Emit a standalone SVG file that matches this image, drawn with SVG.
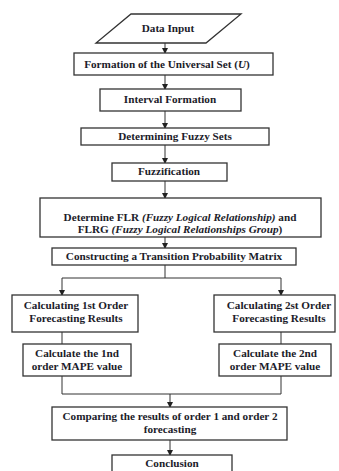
<svg xmlns="http://www.w3.org/2000/svg" width="339" height="471" viewBox="0 0 339 471">
<style>
.b{fill:#fff;stroke:#333;stroke-width:1.3}
.t{font-family:"Liberation Serif","Times New Roman",serif;font-size:11.2px;font-weight:bold;fill:#1c1c2a;text-anchor:middle}
.i{font-style:italic}
.c{fill:none;stroke:#333;stroke-width:1}
</style>
<defs>
<marker id="a" markerWidth="6" markerHeight="6" refX="5" refY="3" orient="auto" markerUnits="userSpaceOnUse">
<path d="M0,0 L6,3 L0,6 Z" fill="#222"/>
</marker>
</defs>
<rect width="339" height="471" fill="#fff"/>
<g id="connectors">
<path class="c" d="M165,43 V53" marker-end="url(#a)"/>
<path class="c" d="M165,75 V89" marker-end="url(#a)"/>
<path class="c" d="M165,111 V128" marker-end="url(#a)"/>
<path class="c" d="M165,145 V163" marker-end="url(#a)"/>
<path class="c" d="M165,181 V198" marker-end="url(#a)"/>
<path class="c" d="M165,237 V248" marker-end="url(#a)"/>
<path class="c" d="M165,265 V278 M62,278 H281"/>
<path class="c" d="M62,278 V295" marker-end="url(#a)"/>
<path class="c" d="M281,278 V295" marker-end="url(#a)"/>
<path class="c" d="M62,332 V344"/>
<path class="c" d="M281,332 V344"/>
<path class="c" d="M62,376 V394 H281 V376"/>
<path class="c" d="M170,394 V407" marker-end="url(#a)"/>
<path class="c" d="M170,440 V455" marker-end="url(#a)"/>
</g>
<g id="n1"><polygon class="b" points="131,14 241,14 206,43 96,43"/><text class="t" x="168" y="32">Data Input</text></g>
<g id="n2"><rect class="b" x="74" y="53" width="199" height="22"/><text class="t" x="167" y="68">Formation of the Universal Set (<tspan class="i">U</tspan>)</text></g>
<g id="n3"><rect class="b" x="100" y="89" width="141" height="22"/><text class="t" x="170" y="103">Interval Formation</text></g>
<g id="n4"><rect class="b" x="81" y="128" width="188" height="17"/><text class="t" x="175" y="140">Determining Fuzzy Sets</text></g>
<g id="n5"><rect class="b" x="112" y="163" width="115" height="18"/><text class="t" x="169" y="175">Fuzzification</text></g>
<g id="n6"><rect class="b" x="40" y="198" width="281" height="39"/><text class="t" x="180" y="221">Determine FLR <tspan class="i">(Fuzzy Logical Relationship)</tspan> and</text><text class="t" x="180" y="233">FLRG <tspan class="i">(Fuzzy Logical Relationships Group</tspan>)</text></g>
<g id="n7"><rect class="b" x="52" y="248" width="244" height="17"/><text class="t" x="174" y="260">Constructing a Transition Probability Matrix</text></g>
<g id="n8"><rect class="b" x="12" y="295" width="126" height="37"/><text class="t" x="76" y="309">Calculating 1st Order</text><text class="t" x="76" y="322">Forecasting Results</text></g>
<g id="n9"><rect class="b" x="214" y="295" width="121" height="37"/><text class="t" x="279" y="309">Calculating 2st Order</text><text class="t" x="279" y="322">Forecasting Results</text></g>
<g id="n10"><rect class="b" x="23" y="344" width="108" height="32"/><text class="t" x="77" y="357">Calculate the 1nd</text><text class="t" x="77" y="370">order MAPE value</text></g>
<g id="n11"><rect class="b" x="219" y="344" width="112" height="32"/><text class="t" x="275" y="357">Calculate the 2nd</text><text class="t" x="275" y="370">order MAPE value</text></g>
<g id="n12"><rect class="b" x="52" y="407" width="235" height="33"/><text class="t" x="170" y="420">Comparing the results of order 1 and order 2</text><text class="t" x="170" y="433">forecasting</text></g>
<g id="n13"><rect class="b" x="112" y="455" width="120" height="20"/><text class="t" x="172" y="467">Conclusion</text></g>
</svg>
